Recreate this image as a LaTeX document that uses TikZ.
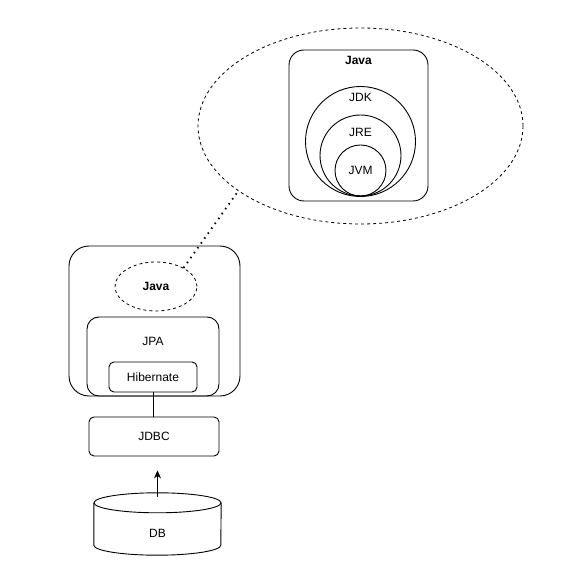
\documentclass[tikz,border=0pt]{standalone}
\usepackage{fontspec}
\setmainfont{Liberation Sans}
\usetikzlibrary{shapes,arrows.meta,positioning}

\begin{document}
\begin{tikzpicture}[x=1pt,y=1pt,% styles for the whole picture
					every node/.style={
						align=center,
						font=\fontsize{12}{14}\selectfont
						},
					box/.style={rectangle,draw=black,line width=0.9pt},
					zoomed/.style={ellipse,draw=black,line width=0.8pt,dash pattern=on 3pt off 3pt},
					layer/.style={circle,draw=black,line width=0.9pt,inner sep=0pt}
					]
\useasboundingbox (0,0) rectangle (571,571);
% zoomed view of the Java part
\node[zoomed,minimum width=325pt,minimum height=196pt](Zoom) at (360.5,445){};
\node[box,rounded corners=15pt,minimum width=139pt,minimum height=151pt](Java) at (358.5,445.5){};
\node[font=\fontsize{12}{14}\selectfont\bfseries](JavaT) at ([yshift=-11pt]Java.north){Java};
\node[layer,minimum size=110pt](JDK) at (360.5,429.5){};
\node(JDKT) at ([yshift=-11pt]JDK.north){JDK};
\node[layer,minimum size=81pt](JRE) at (360.5,415.5){};
\node(JRET) at ([yshift=-18pt]JRE.north){JRE};
\node[layer,minimum size=51pt](JVM) at (360.5,400.5){JVM};
% application stack
\node[box,rounded corners=20pt,minimum width=171pt,minimum height=150pt](App) at (154.5,250){};
\node[zoomed,minimum width=82pt,minimum height=49pt,font=\fontsize{12}{14}\selectfont\bfseries](Small) at (156,284.5){Java};
\node[box,rounded corners=12pt,minimum width=132pt,minimum height=79pt](JPA) at (153,214.5){};
\node(JPAT) at ([yshift=-25pt]JPA.north){JPA};
\node[box,rounded corners=5pt,minimum width=88pt,minimum height=30pt](Hib) at (153,194){Hibernate};
\node[box,rounded corners=5pt,minimum width=130pt,minimum height=39pt](JDBC) at (154,134.5){JDBC};
% database cylinder
\node[minimum width=127pt,minimum height=62pt,inner sep=0pt](DB) at (157.5,47){};
\node(DBT) at ([yshift=-9pt]DB.center){DB};
\draw[line width=0.9pt] ([yshift=-10pt]DB.north) ellipse [x radius=63.5pt,y radius=10pt];
\draw[line width=0.9pt] ([yshift=-10pt]DB.north west) -- ([yshift=10pt]DB.south west)
	arc [start angle=180,end angle=360,x radius=63.5pt,y radius=10pt] -- ([yshift=-10pt]DB.north east);
% connectors
\draw[line width=0.9pt] (Hib.south) -- (Hib.south |- JDBC.north);
\draw[line width=0.9pt,-{Stealth[length=8pt,width=7pt]},shorten >=10pt] ([yshift=-4pt]DB.north) -- ([yshift=-4pt]DB.north |- JDBC.south);
\draw[line width=1.8pt,dash pattern=on 1.5pt off 4.5pt] (Small.34) -- (Zoom.208);
\end{tikzpicture}
\end{document}
